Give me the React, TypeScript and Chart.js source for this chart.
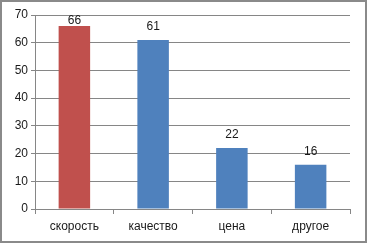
import React, { useEffect, useRef } from "react";
import { Chart, registerables } from "chart.js";

Chart.register(...registerables);

const categories = ["скорость", "качество", "цена", "другое"];
const values = [66, 61, 22, 16];
const barColors = ["#C0504D", "#4F81BD", "#4F81BD", "#4F81BD"];
const yMin = 0;
const yMax = 70;

const FONT = "'Liberation Sans', Arial, sans-serif";

const decorPlugin = {
  id: "decor",
  beforeDraw(chart: any) {
    const { ctx, width, height } = chart;
    ctx.save();
    ctx.fillStyle = "#ffffff";
    ctx.fillRect(0, 0, width, height);
    ctx.strokeStyle = "#8a8a8a";
    ctx.lineWidth = 2;
    ctx.strokeRect(1, 1, width - 2, height - 2);
    ctx.restore();
  },
  afterDraw(chart: any) {
    const { ctx, chartArea } = chart;
    const meta = chart.getDatasetMeta(0);
    ctx.save();
    ctx.font = `12px ${FONT}`;
    ctx.fillStyle = "#1a1a1a";
    ctx.textAlign = "center";
    ctx.textBaseline = "alphabetic";
    meta.data.forEach((bar: any, i: number) => {
      const base = Math.max(bar.y - 10, chartArea.top + 9);
      ctx.fillText(String(values[i]), bar.x, base);
    });
    ctx.restore();
  },
};

export default function App() {
  const ref = useRef<HTMLCanvasElement>(null);

  useEffect(() => {
    document.body.style.margin = "0";
    const chart = new Chart(ref.current!, {
      type: "bar",
      data: {
        labels: categories,
        datasets: [
          {
            data: values,
            backgroundColor: barColors,
            borderWidth: 0,
            barPercentage: 0.4,
            categoryPercentage: 1,
          },
        ],
      },
      options: {
        animation: false,
        responsive: false,
        layout: { padding: { left: 0, right: 17, top: 15, bottom: 0 } },
        plugins: { legend: { display: false }, tooltip: { enabled: false } },
        scales: {
          x: {
            grid: {
              display: true,
              drawOnChartArea: false,
              drawTicks: true,
              tickLength: 5,
              color: "#868686",
              offset: true,
            },
            border: { display: true, color: "#868686", width: 1 },
            ticks: { font: { family: FONT, size: 12 }, color: "#1a1a1a", padding: 5 },
            afterFit: (s: any) => {
              s.height = 34;
            },
          },
          y: {
            min: yMin,
            max: yMax,
            grid: { color: "#868686", drawTicks: true, tickLength: 4 },
            border: { display: true, color: "#868686", width: 1 },
            ticks: {
              autoSkip: false,
              z: 1,
              font: { family: FONT, size: 12 },
              color: "#1a1a1a",
              padding: 3,
            },
            afterFit: (s: any) => {
              s.width = 35;
            },
          },
        },
      },
      plugins: [decorPlugin],
    });
    return () => chart.destroy();
  }, []);

  return (
    <div>
      <canvas ref={ref} width={367} height={243} style={{ display: "block" }} />
    </div>
  );
}
